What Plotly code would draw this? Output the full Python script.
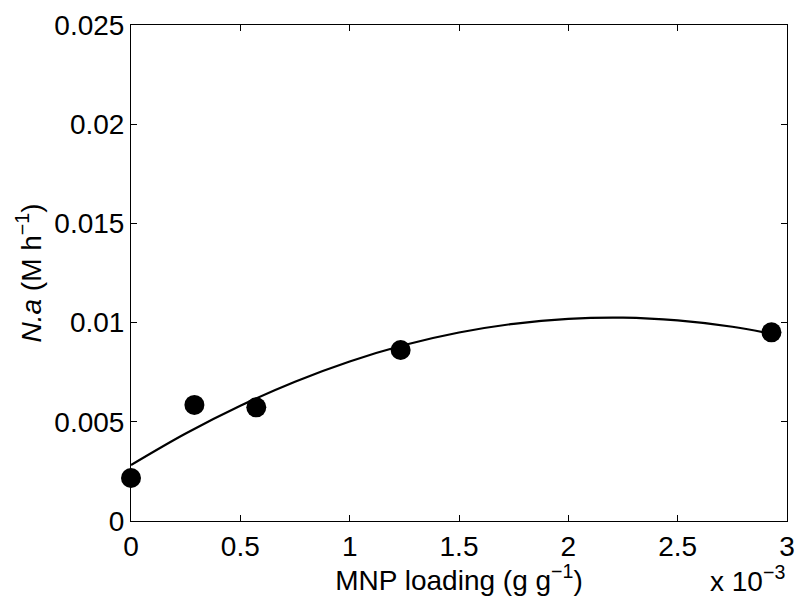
import plotly.graph_objects as go

# Measured data (MNP loading in g/g, N.a in M/h)
mnp_loading = [0.0, 0.29e-3, 0.573e-3, 1.233e-3, 2.929e-3]
na_values = [0.00217, 0.00585, 0.00573, 0.00862, 0.00951]

# Fitted curve
curve_x = [0.0, 0.25e-3, 0.5e-3, 0.75e-3, 1.0e-3, 1.25e-3, 1.5e-3, 1.75e-3,
           2.0e-3, 2.25e-3, 2.5e-3, 2.75e-3, 2.93e-3]
curve_y = [0.00282, 0.00441, 0.00581, 0.00702, 0.00804, 0.00887, 0.00950,
           0.00994, 0.01019, 0.01025, 0.01011, 0.00979, 0.00943]

x_tickvals = [0, 0.5e-3, 1.0e-3, 1.5e-3, 2.0e-3, 2.5e-3, 3.0e-3]
x_ticktext = ["0", "0.5", "1", "1.5", "2", "2.5", "3"]
y_tickvals = [0, 0.005, 0.01, 0.015, 0.02, 0.025]
y_ticktext = ["0", "0.005", "0.01", "0.015", "0.02", "0.025"]

font_family = "Liberation Sans, Arial, Helvetica, sans-serif"

fig = go.Figure()
fig.add_trace(go.Scatter(
    x=curve_x, y=curve_y, mode="lines", line=dict(color="black", width=2.2, shape="spline"),
    showlegend=False, hoverinfo="skip"))
fig.add_trace(go.Scatter(
    x=mnp_loading, y=na_values, mode="markers",
    marker=dict(color="black", size=20), showlegend=False, cliponaxis=False))

axis_common = dict(
    showgrid=False, zeroline=False, showline=True, linecolor="black", linewidth=1,
    mirror="ticks", ticks="inside", ticklen=6, tickcolor="black", tickwidth=1,
    tickfont=dict(family=font_family, size=28, color="black"), automargin=False,
)

fig.update_xaxes(range=[0, 3.0e-3], tickvals=x_tickvals, ticktext=x_ticktext,
                 title=dict(text="MNP loading (g g<sup>−1</sup>)",
                            font=dict(family=font_family, size=28, color="black"),
                            standoff=2),
                 **axis_common)
fig.update_yaxes(range=[0, 0.025], tickvals=y_tickvals, ticktext=y_ticktext,
                 title=dict(text="<i>N.a</i> (M h<sup>−1</sup>)",
                            font=dict(family=font_family, size=28, color="black"),
                            standoff=4),
                 **axis_common)

fig.add_annotation(text="x 10<sup>−3</sup>", xref="paper", yref="paper",
                   x=1.0, y=0, xanchor="right", yanchor="middle", yshift=-58,
                   showarrow=False, font=dict(family=font_family, size=28, color="black"))

fig.update_layout(
    width=795, height=596,
    margin=dict(l=131, r=8, t=25, b=75, autoexpand=False),
    plot_bgcolor="white", paper_bgcolor="white",
)

fig.write_html("out.html")
